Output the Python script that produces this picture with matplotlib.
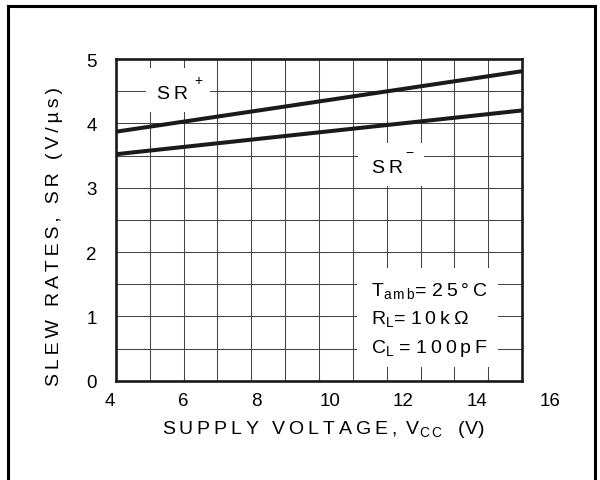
import numpy as np
import matplotlib
matplotlib.use("Agg")
import matplotlib.pyplot as plt
from matplotlib.patches import Rectangle

plt.rcParams['font.family'] = ['Liberation Sans', 'DejaVu Sans']
plt.rcParams['mathtext.fontset'] = 'custom'
plt.rcParams['mathtext.rm'] = 'Liberation Sans'

# data (straight lines across the grid)
vcc = [4.16, 15.24]
sr_pos = [3.87, 4.81]
sr_neg = [3.52, 4.20]

x_tick_vals = [4, 6, 8, 10, 12, 14, 16]
y_tick_vals = [0, 1, 2, 3, 4, 5]

TS = "\u2009"  # thin space, used to fake the wide letter tracking


def spaced(s):
    return TS.join(s)


conditions = [r"T$_{\mathregular{a\,m\,b}}$= " + spaced("25°C"),
              r"R$_{\mathregular{L}}$= " + spaced("10kΩ"),
              r"C$_{\mathregular{L}}$ = " + spaced("100pF")]

fig = plt.figure(figsize=(6, 4.81), dpi=100)
ax = fig.add_axes([116 / 600, 99.3 / 481, 406 / 600, 321.7 / 481])

xmin, xmax = vcc[0], vcc[-1]
ax.set_xlim(xmin, xmax)
ax.set_ylim(0, 5)

# 12 x 10 grid, not lined up with the x labels (like the source)
ax.set_xticks(np.linspace(xmin, xmax, 13))
ax.set_xticklabels([])
ax.set_yticks(y_tick_vals)
ax.set_yticks(np.arange(0, 5.01, 0.5), minor=True)
ax.tick_params(which='both', length=0)
ax.tick_params(axis='y', pad=14, labelsize=13.5)
ax.grid(True, which='both', color='#444444', lw=0.75)
ax.set_axisbelow(True)
for sp in ax.spines.values():
    sp.set_linewidth(1.9)
    sp.set_color('#1a1a1a')

# x labels sit on their own spacing
for v in x_tick_vals:
    ax.text(v, -0.062, str(v), transform=ax.get_xaxis_transform(),
            ha='center', va='center', fontsize=13.5, clip_on=False)

ax.plot(vcc, sr_pos, color='#1a1a1a', lw=2.9, solid_capstyle='butt', zorder=4)
ax.plot(vcc, sr_neg, color='#1a1a1a', lw=2.9, solid_capstyle='butt', zorder=4)

# white patches behind curve labels and the conditions block
ax.add_patch(Rectangle((4.98, 4.18), 1.75, 0.68, fc='white', ec='none', zorder=2))
ax.add_patch(Rectangle((10.76, 3.03), 1.80, 0.66, fc='white', ec='none', zorder=2))
ax.add_patch(Rectangle((10.74, 0.21), 3.84, 1.54, fc='white', ec='none', zorder=2))

ax.text(5.69, 4.46, spaced("SR"), ha='center', va='center', fontsize=14, zorder=5)
ax.text(6.40, 4.68, "+", ha='center', va='center', fontsize=10, zorder=5)
ax.text(11.58, 3.32, spaced("SR"), ha='center', va='center', fontsize=14, zorder=5)
ax.text(12.18, 3.56, "\u2212", ha='center', va='center', fontsize=10, zorder=5)

for txt, yv in zip(conditions, [1.39, 0.96, 0.52]):
    ax.text(11.12, yv, txt, ha='left', va='center', fontsize=14, zorder=5)

fig.text(55 / 600, 1 - 236 / 481, spaced("SLEW RATES, SR (V/µs)"),
         rotation=90, ha='center', va='center', fontsize=14)
fig.text(323 / 600, 1 - 430 / 481,
         spaced("SUPPLY VOLTAGE, ") + r"V$_{\mathregular{C\,C}}$" + "   (V)",
         ha='center', va='center', fontsize=14)

# outer frame, open at the bottom edge of the image
fig.add_artist(Rectangle((8 / 600, -0.2), 587 / 600, 1.2 - 7 / 481,
                         transform=fig.transFigure, fill=False,
                         ec='black', lw=2.2, clip_on=False))

fig.savefig("out.png", dpi=100)
